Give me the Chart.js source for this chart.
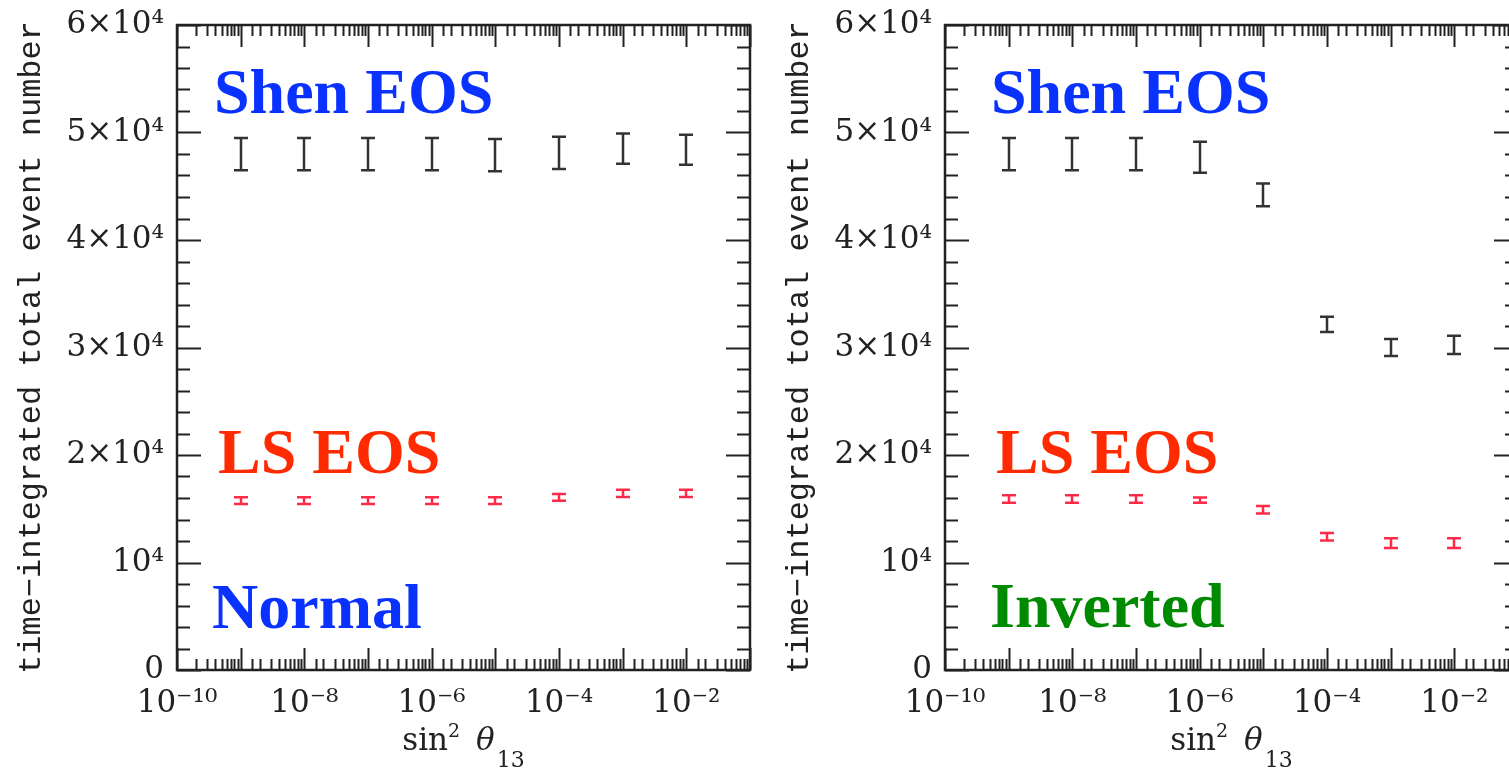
<!DOCTYPE html>
<html>
<head>
<meta charset="utf-8">
<script src="https://cdn.jsdelivr.net/npm/chart.js@4"></script>
<style>
  body { margin: 0; background: #fff; overflow: hidden; width: 1509px; height: 780px; position: relative; }
  .panel { position: absolute; top: 0; width: 770px; height: 780px; }
  #normalPanel { left: 0; }
  #invertedPanel { left: 768px; }
</style>
</head>
<body>
<div class="panel" id="normalPanel"><canvas id="normalChart"></canvas></div>
<div class="panel" id="invertedPanel"><canvas id="invertedChart"></canvas></div>
<script>
// sin^2 theta_13 values where the event numbers were computed
const sin2Theta13 = [1e-9, 1e-8, 1e-7, 1e-6, 1e-5, 1e-4, 1e-3, 1e-2];

// normal hierarchy
const shenNormal = [48000, 48000, 48000, 48000, 47900, 48100, 48500, 48400];
const shenNormalErr = [1500, 1500, 1500, 1500, 1500, 1500, 1400, 1400];
const lsNormal = [15760, 15760, 15760, 15760, 15760, 16060, 16430, 16430];
const lsNormalErr = [320, 320, 320, 320, 320, 320, 330, 330];

// inverted hierarchy
const shenInverted = [48000, 48000, 48000, 47700, 44200, 32150, 30000, 30250];
const shenInvertedErr = [1500, 1500, 1500, 1450, 1050, 700, 800, 850];
const lsInverted = [15900, 15900, 15900, 15800, 14900, 12400, 11800, 11800];
const lsInvertedErr = [350, 350, 350, 250, 350, 350, 450, 450];

const yTicksMajor = 10000;
const SUP = {'-': '⁻', '0': '⁰', '1': '¹', '2': '²', '3': '³', '4': '⁴', '5': '⁵', '6': '⁶', '7': '⁷', '8': '⁸', '9': '⁹'};

function isDecade(v) {
  const lg = Math.log10(v);
  return Math.abs(lg - Math.round(lg)) < 1e-6;
}

function xLabel(v) {
  if (!isDecade(v)) return '';
  const e = Math.round(Math.log10(v));
  if (e % 2 !== 0) return '';
  return '10' + String(e).split('').map(c => SUP[c]).join('');
}

function yLabel(v) {
  if (v === 0) return '0';
  if (v % yTicksMajor !== 0) return '';
  const m = v / yTicksMajor;
  return m === 1 ? '10⁴' : m + '×10⁴';
}

function points(values) {
  return sin2Theta13.map((x, i) => ({x: x, y: values[i]}));
}

// inward ticks on all four sides plus the frame
const frameTicks = {
  id: 'frameTicks',
  afterDatasetsDraw(chart) {
    const {ctx, chartArea: a, scales: {x, y}} = chart;
    ctx.save();
    ctx.strokeStyle = '#222';
    ctx.lineWidth = 2;
    x.ticks.forEach(t => {
      const px = Math.round(x.getPixelForValue(t.value)) + 0.5;
      const len = isDecade(t.value) ? 22 : 11;
      ctx.beginPath();
      ctx.moveTo(px, a.bottom); ctx.lineTo(px, a.bottom - len);
      ctx.moveTo(px, a.top); ctx.lineTo(px, a.top + len);
      ctx.stroke();
    });
    y.ticks.forEach(t => {
      const py = Math.round(y.getPixelForValue(t.value)) + 0.5;
      const len = t.value % yTicksMajor === 0 ? 24 : 13;
      ctx.beginPath();
      ctx.moveTo(a.left, py); ctx.lineTo(a.left + len, py);
      ctx.moveTo(a.right, py); ctx.lineTo(a.right - len, py);
      ctx.stroke();
    });
    ctx.lineWidth = 2.5;
    ctx.strokeRect(a.left, a.top, a.right - a.left, a.bottom - a.top);
    ctx.restore();
  }
};

// vertical error bars with caps
const errorBars = {
  id: 'errorBars',
  afterDatasetsDraw(chart) {
    const {ctx, scales: {y}} = chart;
    chart.data.datasets.forEach((ds, i) => {
      const meta = chart.getDatasetMeta(i);
      ctx.save();
      ctx.strokeStyle = ds.borderColor;
      ctx.lineWidth = 2.5;
      meta.data.forEach((pt, j) => {
        const v = ds.data[j].y;
        const e = ds.errors[j];
        const top = y.getPixelForValue(v + e);
        const bot = y.getPixelForValue(v - e);
        const cx = Math.round(pt.x);
        ctx.beginPath();
        ctx.moveTo(cx, top); ctx.lineTo(cx, bot);
        ctx.moveTo(cx - 7, top); ctx.lineTo(cx + 7, top);
        ctx.moveTo(cx - 7, bot); ctx.lineTo(cx + 7, bot);
        ctx.stroke();
      });
      ctx.restore();
    });
  }
};

// big labels inside the panel, and the x title with real super/subscripts
const panelLabels = {
  id: 'panelLabels',
  afterDraw(chart, args, opts) {
    const {ctx, chartArea: a} = chart;
    ctx.save();
    ctx.font = 'bold 64px "Liberation Serif", "Times New Roman", serif';
    ctx.textBaseline = 'alphabetic';
    ctx.textAlign = 'left';
    opts.items.forEach(it => {
      ctx.fillStyle = it.color;
      ctx.fillText(it.text, a.left + it.dx, a.top + it.dy);
    });

    // sin^2 theta_13
    const parts = [
      {t: 'sin', font: '31px "DejaVu Serif", serif', dy: 0, gap: 0},
      {t: '2', font: '19px "DejaVu Serif", serif', dy: -13, gap: 16},
      {t: 'θ', font: 'italic 31px "DejaVu Serif", serif', dy: 0, gap: 2},
      {t: '13', font: '22px "DejaVu Serif", serif', dy: 17, gap: 0}
    ];
    let total = 0;
    parts.forEach(p => {
      ctx.font = p.font;
      p.w = ctx.measureText(p.t).width + p.gap;
      total += p.w;
    });
    let xx = (a.left + a.right) / 2 - total / 2;
    const base = a.bottom + 80;
    ctx.fillStyle = '#222';
    parts.forEach(p => {
      ctx.font = p.font;
      ctx.fillText(p.t, xx, base + p.dy);
      xx += p.w;
    });
    ctx.restore();
  }
};

function buildChart(canvasId, shen, shenErr, ls, lsErr, labels) {
  return new Chart(document.getElementById(canvasId), {
    type: 'scatter',
    data: {
      datasets: [
        {label: 'Shen EOS', data: points(shen), errors: shenErr, borderColor: '#333', pointRadius: 0},
        {label: 'LS EOS', data: points(ls), errors: lsErr, borderColor: '#ff2a48', pointRadius: 0}
      ]
    },
    options: {
      responsive: true,
      maintainAspectRatio: false,
      animation: false,
      layout: {padding: {top: 25, right: 20, left: 0, bottom: 0}},
      plugins: {
        legend: {display: false},
        tooltip: {enabled: false},
        panelLabels: {items: labels}
      },
      scales: {
        x: {
          type: 'logarithmic',
          min: 1e-10,
          max: 1e-1,
          grid: {display: false, drawTicks: false},
          border: {display: false},
          ticks: {
            autoSkip: false,
            maxRotation: 0,
            padding: 15,
            color: '#222',
            font: {family: '"DejaVu Serif", serif', size: 31},
            callback: v => xLabel(v)
          },
          afterFit: s => { s.height = 110; s.paddingLeft = 0; s.paddingRight = 0; }
        },
        y: {
          min: 0,
          max: 60000,
          grid: {display: false, drawTicks: false},
          border: {display: false},
          ticks: {
            stepSize: 2000,
            autoSkip: false,
            padding: 13,
            color: '#222',
            font: {family: '"DejaVu Serif", serif', size: 31},
            callback: v => yLabel(v)
          },
          title: {
            display: true,
            text: 'time−integrated total event number',
            color: '#222',
            font: {family: '"Liberation Mono", monospace', size: 32},
            padding: {top: 12, bottom: 0}
          },
          afterFit: s => { s.width = 177; s.paddingTop = 0; s.paddingBottom = 0; }
        }
      }
    },
    plugins: [errorBars, frameTicks, panelLabels]
  });
}

buildChart('normalChart', shenNormal, shenNormalErr, lsNormal, lsNormalErr, [
  {text: 'Shen EOS', color: '#0a32ff', dx: 37, dy: 88},
  {text: 'LS EOS', color: '#ff2a00', dx: 41, dy: 448},
  {text: 'Normal', color: '#0a32ff', dx: 35, dy: 603}
]);

buildChart('invertedChart', shenInverted, shenInvertedErr, lsInverted, lsInvertedErr, [
  {text: 'Shen EOS', color: '#0a32ff', dx: 46, dy: 88},
  {text: 'LS EOS', color: '#ff2a00', dx: 51, dy: 448},
  {text: 'Inverted', color: '#008a00', dx: 45, dy: 602}
]);
</script>
</body>
</html>
